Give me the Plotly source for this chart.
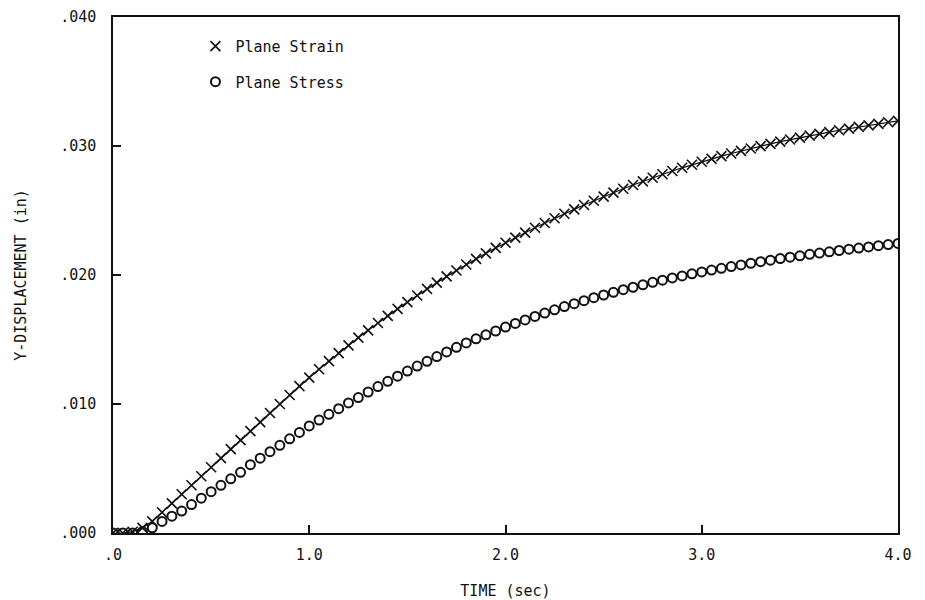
import plotly.graph_objects as go

# Time samples (sec) and computed Y-displacement (in) for the two analyses
time_sec = [round(0.05 * i, 2) for i in range(81)]

plane_strain = [
    0.0, 0.0, 0.0001, 0.0004, 0.0009, 0.0016, 0.0023, 0.0030, 0.0037, 0.0044,
    0.0051, 0.0058, 0.0065, 0.0072, 0.0079, 0.0086, 0.0093, 0.0100, 0.0107, 0.01139,
    0.01205, 0.01269, 0.01332, 0.01394, 0.01454, 0.01514, 0.01571, 0.01628, 0.01683, 0.01737,
    0.01790, 0.01841, 0.01892, 0.01941, 0.01989, 0.02035, 0.02081, 0.02125, 0.02168, 0.02210,
    0.02250, 0.02290, 0.02328, 0.02366, 0.02403, 0.02440, 0.02475, 0.02509, 0.02543, 0.02576,
    0.02608, 0.02639, 0.02669, 0.02698, 0.02726, 0.02754, 0.02781, 0.02806, 0.02831, 0.02855,
    0.02878, 0.02900, 0.02921, 0.02942, 0.02962, 0.02981, 0.02999, 0.03017, 0.03034, 0.03050,
    0.03065, 0.03080, 0.03094, 0.03108, 0.03122, 0.03135, 0.03148, 0.03160, 0.03172, 0.03184,
    0.03195,
]

plane_stress = [
    0.0, 0.0, 0.0, 0.0001, 0.0004, 0.0009, 0.0013, 0.0017, 0.0022, 0.0027,
    0.0032, 0.0037, 0.0042, 0.0047, 0.0053, 0.0058, 0.0063, 0.0068, 0.0073, 0.0078,
    0.0083, 0.00876, 0.00920, 0.00964, 0.01008, 0.01050, 0.01093, 0.01135, 0.01176, 0.01216,
    0.01255, 0.01294, 0.01331, 0.01368, 0.01404, 0.01439, 0.01473, 0.01505, 0.01536, 0.01566,
    0.01596, 0.01625, 0.01652, 0.01679, 0.01705, 0.01730, 0.01755, 0.01778, 0.01801, 0.01824,
    0.01845, 0.01866, 0.01886, 0.01905, 0.01924, 0.01943, 0.01960, 0.01977, 0.01993, 0.02009,
    0.02024, 0.02038, 0.02052, 0.02065, 0.02078, 0.02091, 0.02103, 0.02115, 0.02127, 0.02138,
    0.02149, 0.02160, 0.02170, 0.02180, 0.02190, 0.02200, 0.02209, 0.02218, 0.02227, 0.02236,
    0.02245,
]

x_tick_vals = [0.0, 1.0, 2.0, 3.0, 4.0]
x_tick_text = [".0", "1.0", "2.0", "3.0", "4.0"]
y_tick_vals = [0.0, 0.01, 0.02, 0.03, 0.04]
y_tick_text = [".000", ".010", ".020", ".030", ".040"]

FONT = "DejaVu Sans Mono"
INK = "#111111"

fig = go.Figure()

# connecting line for the plane-strain curve
fig.add_trace(go.Scatter(
    x=time_sec, y=plane_strain, mode="lines",
    line=dict(color=INK, width=1.2),
    showlegend=False, hoverinfo="skip",
))
fig.add_trace(go.Scatter(
    x=time_sec, y=plane_strain, mode="markers", name="Plane Strain",
    marker=dict(symbol="x-thin", size=10, line=dict(color=INK, width=1.6)),
    legendgroup="strain",
))
fig.add_trace(go.Scatter(
    x=time_sec, y=plane_stress, mode="markers", name="Plane Stress",
    marker=dict(symbol="circle-open", size=9, color=INK, line=dict(color=INK, width=2)),
    legendgroup="stress",
))

axis_common = dict(
    showgrid=False, zeroline=False, showline=True, mirror=True, automargin=False,
    linecolor=INK, linewidth=1.5, ticks="inside", ticklen=8, tickwidth=1.5,
    tickcolor=INK, tickfont=dict(family=FONT, size=15, color=INK),
)

fig.update_layout(
    width=925, height=600,
    margin=dict(l=113, r=27, t=17, b=67),
    paper_bgcolor="white", plot_bgcolor="white",
    font=dict(family=FONT, color=INK),
    xaxis=dict(
        range=[0, 4], tickvals=x_tick_vals, ticktext=x_tick_text,
        title=dict(text="TIME (sec)", font=dict(family=FONT, size=15, color=INK), standoff=26),
        ticklabelstandoff=7, **axis_common,
    ),
    yaxis=dict(
        range=[0, 0.04], tickvals=y_tick_vals, ticktext=y_tick_text,
        title=dict(text="Y-DISPLACEMENT (in)", font=dict(family=FONT, size=15, color=INK), standoff=30),
        ticklabelstandoff=12, **axis_common,
    ),
    legend=dict(
        x=0.105, y=0.975, xanchor="left", yanchor="top",
        bgcolor="rgba(0,0,0,0)", borderwidth=0,
        font=dict(family=FONT, size=15, color=INK),
        traceorder="grouped", tracegroupgap=13, itemwidth=30,
    ),
)

fig.write_html("out.html")
